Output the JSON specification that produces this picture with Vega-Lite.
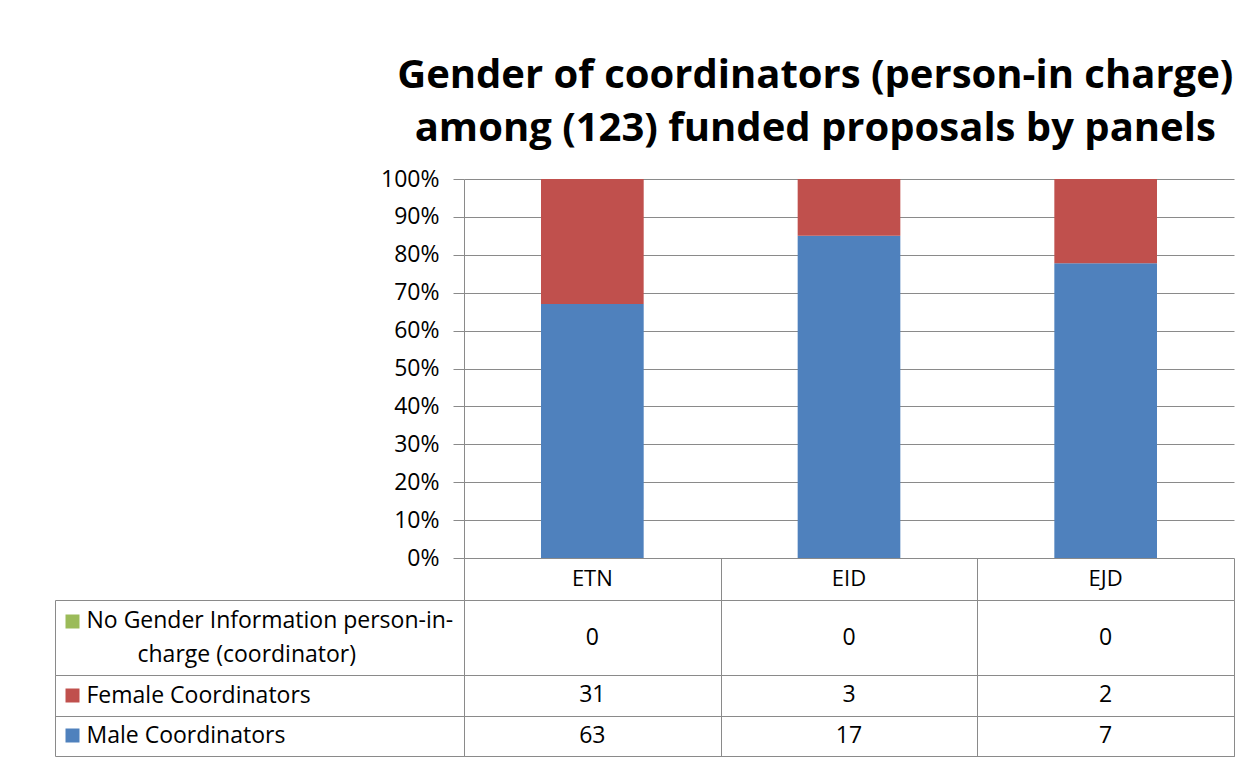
{
  "$schema": "https://vega.github.io/schema/vega-lite/v6.json",
  "background": "white",
  "padding": {"left": 54, "top": 56, "right": 27, "bottom": 9},
  "config": {
    "font": "Open Sans",
    "view": {"stroke": null},
    "concat": {"spacing": 0}
  },
  "title": {
    "text": ["Gender of coordinators (person-in charge)", "among (123) funded proposals by panels"],
    "font": "Open Sans",
    "fontSize": 40,
    "fontWeight": "bold",
    "color": "black",
    "anchor": "middle",
    "dx": 171,
    "lineHeight": 53,
    "offset": 19
  },
  "datasets": {
    "counts": [
      {"panel": "ETN", "series": "Male Coordinators", "count": 63, "stackOrder": 1},
      {"panel": "ETN", "series": "Female Coordinators", "count": 31, "stackOrder": 2},
      {"panel": "ETN", "series": "No Gender Information person-in-charge (coordinator)", "count": 0, "stackOrder": 3},
      {"panel": "EID", "series": "Male Coordinators", "count": 17, "stackOrder": 1},
      {"panel": "EID", "series": "Female Coordinators", "count": 3, "stackOrder": 2},
      {"panel": "EID", "series": "No Gender Information person-in-charge (coordinator)", "count": 0, "stackOrder": 3},
      {"panel": "EJD", "series": "Male Coordinators", "count": 7, "stackOrder": 1},
      {"panel": "EJD", "series": "Female Coordinators", "count": 2, "stackOrder": 2},
      {"panel": "EJD", "series": "No Gender Information person-in-charge (coordinator)", "count": 0, "stackOrder": 3}
    ]
  },
  "bounds": "flush",
  "vconcat": [
    {
      "width": 770,
      "height": 379,
      "data": {"name": "counts"},
      "mark": {"type": "bar", "width": {"band": 0.4}},
      "encoding": {
        "x": {
          "field": "panel", "type": "nominal", "sort": ["ETN", "EID", "EJD"],
          "scale": {"paddingInner": 0, "paddingOuter": 0},
          "axis": null
        },
        "y": {
          "field": "count", "type": "quantitative", "stack": "normalize",
          "scale": {"domain": [0, 1]},
          "axis": {
            "title": null, "format": ".0%",
            "values": [0, 0.1, 0.2, 0.3, 0.4, 0.5, 0.6, 0.7, 0.8, 0.9, 1],
            "tickSize": 11, "labelPadding": 14, "tickColor": "#8a8a8a", "gridColor": "#8a8a8a",
            "domainColor": "#8a8a8a", "labelFontSize": 23, "labelColor": "black"
          }
        },
        "color": {
          "field": "series", "type": "nominal",
          "scale": {
            "domain": ["Male Coordinators", "Female Coordinators", "No Gender Information person-in-charge (coordinator)"],
            "range": ["#4F81BD", "#C0504D", "#9BBB59"]
          },
          "legend": null
        },
        "order": {"field": "stackOrder", "type": "quantitative"}
      }
    },
    {
      "width": 770,
      "height": 42,
      "data": {"name": "counts"},
      "transform": [{"filter": "datum.series === 'Male Coordinators'"}],
      "mark": {"type": "text", "fontSize": 22, "color": "black"},
      "encoding": {
        "x": {
          "field": "panel", "type": "nominal", "sort": ["ETN", "EID", "EJD"],
          "scale": {"paddingInner": 0, "paddingOuter": 0},
          "axis": {
            "title": null, "grid": true, "tickBand": "extent", "gridColor": "#8a8a8a",
            "labels": false, "ticks": false, "domain": false
          }
        },
        "text": {"field": "panel", "type": "nominal"}
      }
    },
    {
      "width": 770,
      "height": 75,
      "view": {"stroke": "#8a8a8a"},
      "data": {"name": "counts"},
      "transform": [{"filter": "datum.series === 'No Gender Information person-in-charge (coordinator)'"}],
      "layer": [
        {
          "mark": {"type": "text", "fontSize": 23, "color": "black"},
          "encoding": {
            "x": {
              "field": "panel", "type": "nominal", "sort": ["ETN", "EID", "EJD"],
              "scale": {"paddingInner": 0, "paddingOuter": 0},
              "axis": {
                "title": null, "grid": true, "tickBand": "extent", "gridColor": "#8a8a8a",
                "labels": false, "ticks": false, "domain": false
              }
            },
            "y": {
              "field": "series", "type": "nominal",
              "axis": {
                "title": null, "orient": "left", "offset": 409, "domainColor": "#8a8a8a",
                "tickSize": -409, "tickBand": "extent", "tickColor": "#8a8a8a",
                "grid": false,
                "labelAlign": "left", "labelPadding": 378, "labelBaseline": "line-bottom",
                "labelFontSize": 23, "labelColor": "black", "labelLimit": 0, "labelLineHeight": 34,
                "labelExpr": "datum.value === 'No Gender Information person-in-charge (coordinator)' ? ['No Gender Information person-in-', '\u2800\u2800\u2800charge (coordinator)'] : ''"
              }
            },
            "text": {"field": "count", "type": "quantitative"}
          }
        },
        {
          "mark": {"type": "point", "opacity": 0},
          "encoding": {
            "x": {"field": "panel", "type": "nominal", "sort": ["ETN", "EID", "EJD"], "axis": null},
            "y": {
              "field": "series", "type": "nominal",
              "axis": {
                "title": null, "orient": "left", "offset": 385, "domain": false, "grid": false,
                "labels": false, "tickSize": 14, "tickWidth": 14, "tickOffset": -17,
                "tickColor": "#9BBB59"
              }
            }
          }
        }
      ],
      "resolve": {"axis": {"y": "independent", "x": "independent"}}
    },
    {
      "width": 770,
      "height": 81,
      "view": {"stroke": "#8a8a8a"},
      "data": {"name": "counts"},
      "transform": [{"filter": "datum.series !== 'No Gender Information person-in-charge (coordinator)'"}],
      "layer": [
        {
          "mark": {"type": "text", "fontSize": 23, "color": "black"},
          "encoding": {
            "x": {
              "field": "panel", "type": "nominal", "sort": ["ETN", "EID", "EJD"],
              "scale": {"paddingInner": 0, "paddingOuter": 0},
              "axis": {
                "title": null, "grid": true, "tickBand": "extent", "gridColor": "#8a8a8a",
                "labels": false, "ticks": false, "domain": false
              }
            },
            "y": {
              "field": "series", "type": "nominal",
              "sort": ["Female Coordinators", "Male Coordinators"],
              "axis": {
                "title": null, "orient": "left", "offset": 409, "domainColor": "#8a8a8a",
                "tickSize": -409, "tickBand": "extent", "tickColor": "#8a8a8a",
                "grid": true, "gridColor": "#8a8a8a",
                "labelAlign": "left", "labelPadding": 378, "labelBaseline": "middle",
                "labelFontSize": 23, "labelColor": "black", "labelLimit": 0
              }
            },
            "text": {"field": "count", "type": "quantitative"}
          }
        },
        {
          "mark": {"type": "point", "opacity": 0},
          "encoding": {
            "x": {"field": "panel", "type": "nominal", "sort": ["ETN", "EID", "EJD"], "axis": null},
            "y": {
              "field": "series", "type": "nominal",
              "sort": ["Female Coordinators", "Male Coordinators"],
              "axis": {
                "title": null, "orient": "left", "offset": 385, "domain": false, "grid": false,
                "labels": false, "tickSize": 14, "tickWidth": 14,
                "tickColor": {
                  "condition": {"test": "datum.value === 'Male Coordinators'", "value": "#4F81BD"},
                  "value": "#C0504D"
                }
              }
            }
          }
        }
      ],
      "resolve": {"axis": {"y": "independent", "x": "independent"}}
    }
  ]
}
